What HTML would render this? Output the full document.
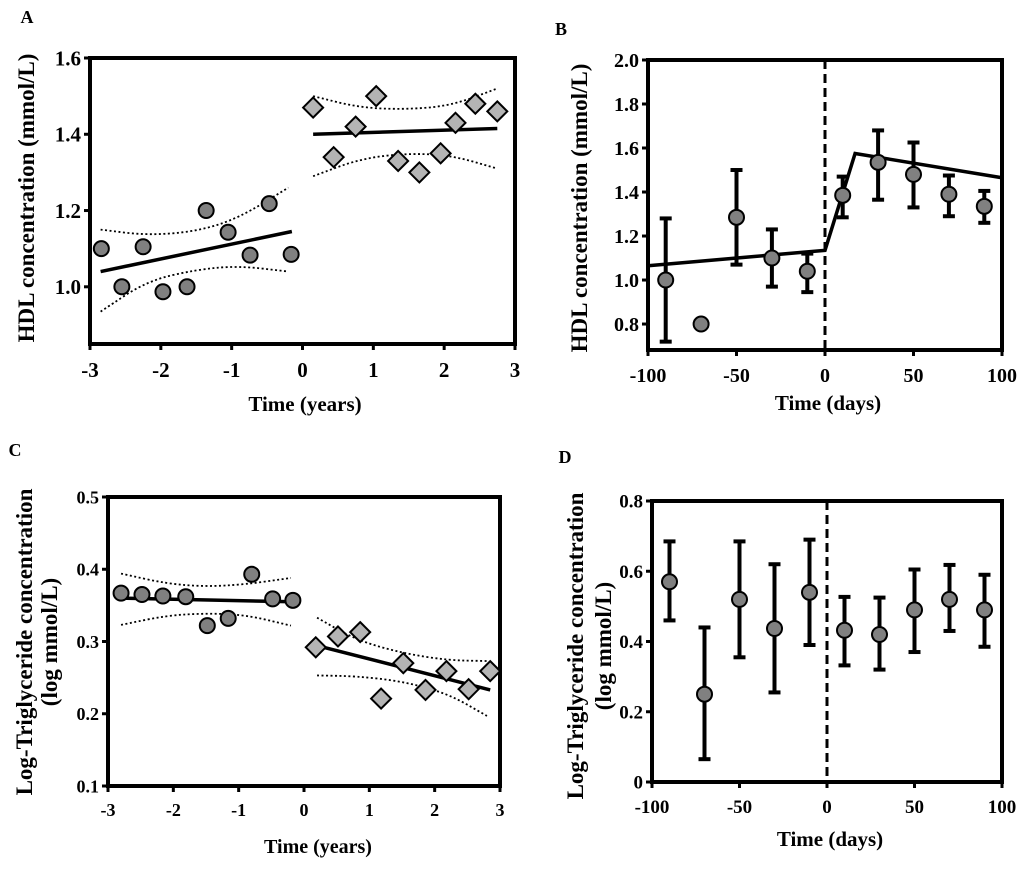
<!DOCTYPE html>
<html><head><meta charset="utf-8"><style>
body{margin:0;background:#fff;}
svg text{font-family:"Liberation Serif",serif;font-weight:bold;fill:#000;}
</style></head><body>
<svg id="fig" width="1024" height="870" viewBox="0 0 1024 870" xmlns="http://www.w3.org/2000/svg"></svg>
<script>
// Panel A data
const aPreX=[-2.84,-2.55,-2.25,-1.97,-1.63,-1.36,-1.05,-0.74,-0.47,-0.16];
const aPreY=[1.10,1.00,1.105,0.987,1.00,1.20,1.143,1.083,1.218,1.085];
const aPostX=[0.15,0.44,0.75,1.04,1.35,1.65,1.95,2.16,2.44,2.75];
const aPostY=[1.47,1.34,1.42,1.50,1.33,1.30,1.35,1.43,1.48,1.46];
const aFitPre=[[-2.85,1.04],[-0.15,1.145]];
const aFitPost=[[0.15,1.40],[2.75,1.415]];
const aBandX=[-2.85,-2.2,-1.5,-0.9,-0.2];
const aBandUp=[1.15,1.135,1.145,1.18,1.26];
const aBandLo=[0.935,1.015,1.045,1.055,1.04];
const aBand2X=[0.15,0.8,1.45,2.1,2.75];
const aBand2Up=[1.50,1.47,1.465,1.475,1.52];
const aBand2Lo=[1.29,1.335,1.35,1.345,1.31];
const aXTicks=[-3,-2,-1,0,1,2,3];
const aYTicks=[1.0,1.2,1.4,1.6];
// Panel B data
const bDays=[-90,-70,-50,-30,-10,10,30,50,70,90];
const bMean=[1.0,0.8,1.285,1.10,1.04,1.385,1.535,1.48,1.39,1.335];
const bLo=[0.72,null,1.07,0.97,0.945,1.285,1.365,1.33,1.29,1.26];
const bHi=[1.28,null,1.50,1.23,1.12,1.47,1.68,1.625,1.475,1.405];
const bModel=[[-100,1.065],[0,1.135],[17,1.575],[100,1.465]];
const bXTicks=[-100,-50,0,50,100];
const bYTicks=[0.8,1.0,1.2,1.4,1.6,1.8,2.0];
// Panel C data
const cPreX=[-2.80,-2.48,-2.16,-1.81,-1.48,-1.16,-0.80,-0.48,-0.17];
const cPreY=[0.367,0.365,0.363,0.362,0.322,0.332,0.393,0.359,0.357];
const cPostX=[0.18,0.52,0.86,1.18,1.52,1.86,2.18,2.52,2.85];
const cPostY=[0.292,0.307,0.313,0.221,0.270,0.233,0.259,0.234,0.259];
const cFitPre=[[-2.8,0.360],[-0.17,0.355]];
const cFitPost=[[0.3,0.292],[2.85,0.233]];
const cBandX=[-2.8,-2.1,-1.5,-0.9,-0.2];
const cBandUp=[0.394,0.380,0.376,0.379,0.388];
const cBandLo=[0.323,0.336,0.339,0.337,0.322];
const cBand2X=[0.2,0.8,1.5,2.2,2.8];
const cBand2Up=[0.333,0.302,0.284,0.274,0.273];
const cBand2Lo=[0.253,0.252,0.245,0.228,0.197];
const cXTicks=[-3,-2,-1,0,1,2,3];
const cYTicks=[0.1,0.2,0.3,0.4,0.5];
// Panel D data
const dDays=[-90,-70,-50,-30,-10,10,30,50,70,90];
const dMean=[0.57,0.25,0.52,0.437,0.54,0.432,0.42,0.49,0.52,0.49];
const dLo=[0.46,0.065,0.355,0.255,0.39,0.332,0.32,0.37,0.43,0.385];
const dHi=[0.685,0.44,0.685,0.62,0.69,0.527,0.525,0.605,0.618,0.59];
const dXTicks=[-100,-50,0,50,100];
const dYTicks=[0,0.2,0.4,0.6,0.8];

const svg=document.getElementById('fig');
const NS='http://www.w3.org/2000/svg';
function mk(tag,attrs,parent){const e=document.createElementNS(NS,tag);for(const k in attrs)e.setAttribute(k,attrs[k]);(parent||svg).appendChild(e);return e;}
function txt(s,x,y,size,anchor,parent,rot){const t=mk('text',{x:x,y:y,'font-size':size,'text-anchor':anchor||'middle'},parent);if(rot)t.setAttribute('transform','rotate(-90 '+x+' '+y+')');t.textContent=s;return t;}
function axes(p,g){
  const sx=v=>p.x0+(v-p.xmin)/(p.xmax-p.xmin)*(p.x1-p.x0);
  const sy=v=>p.y1-(v-p.ymin)/(p.ymax-p.ymin)*(p.y1-p.y0);
  const box=mk('rect',{x:p.x0,y:p.y0,width:p.x1-p.x0,height:p.y1-p.y0,fill:'none',stroke:'#000','stroke-width':4},g);
  
  const fs=p.fs;
  p.xt.forEach(v=>{mk('line',{x1:sx(v),x2:sx(v),y1:p.y1,y2:p.y1+6,stroke:'#000','stroke-width':3},g);
    const t=txt(String(v),sx(v),p.y1+p.xlo,fs,'middle',g);});
  p.yt.forEach(v=>{mk('line',{x1:p.x0-6,x2:p.x0,y1:sy(v),y2:sy(v),stroke:'#000','stroke-width':3},g);
    const t=txt(p.yfmt(v),p.x0-9,sy(v)+fs*0.35,fs,'end',g);});
  return [sx,sy];
}
function poly(pts,sx,sy,attrs,g,name){const l=mk('polyline',Object.assign({points:pts.map(q=>sx(q[0])+','+sy(q[1])).join(' '),fill:'none',stroke:'#000'},attrs),g);return l;}
function band(xs,ys,sx,sy,g,name){
  let d='M'+sx(xs[0])+','+sy(ys[0]);
  for(let i=1;i<xs.length;i++){const mx=(sx(xs[i-1])+sx(xs[i]))/2;d+=' Q'+sx(xs[i-1])+','+sy(ys[i-1])+' '+mx+','+((sy(ys[i-1])+sy(ys[i]))/2);}
  d+=' L'+sx(xs[xs.length-1])+','+sy(ys[ys.length-1]);
  const p=mk('path',{d:d,fill:'none',stroke:'#000','stroke-width':1.8,'stroke-dasharray':'2,2.5'},g);
  
}
function circ(x,y,g,name){const c=mk('circle',{cx:x,cy:y,r:7.5,fill:'#808080',stroke:'#000','stroke-width':2},g);}
function diam(x,y,g,name){const r=10;const c=mk('polygon',{points:`${x},${y-r} ${x+r},${y} ${x},${y+r} ${x-r},${y}`,fill:'#b4b4b4',stroke:'#000','stroke-width':2},g);}
function errbars(days,mean,lo,hi,sx,sy,g){
  days.forEach((d,i)=>{
    if(lo[i]!=null){
      const e=mk('g',{},g);
      mk('line',{x1:sx(d),x2:sx(d),y1:sy(lo[i]),y2:sy(hi[i]),stroke:'#000','stroke-width':4},e);
      mk('line',{x1:sx(d)-6,x2:sx(d)+6,y1:sy(lo[i]),y2:sy(lo[i]),stroke:'#000','stroke-width':4},e);
      mk('line',{x1:sx(d)-6,x2:sx(d)+6,y1:sy(hi[i]),y2:sy(hi[i]),stroke:'#000','stroke-width':4},e);
    }
  });
  days.forEach((d,i)=>circ(sx(d),sy(mean[i]),g,'mean-point'));
}
function vdash(sx,p,g){const l=mk('line',{x1:sx(0),x2:sx(0),y1:p.y0,y2:p.y1,stroke:'#000','stroke-width':3,'stroke-dasharray':'9,5'},g);}

// ---- Panel A
let g=mk('g',{});
let t=txt('A',27,23,18,'middle',g);
let pA={x0:90,x1:515,y0:58,y1:344,xmin:-3,xmax:3,ymin:0.85,ymax:1.6,xt:aXTicks,yt:aYTicks,yfmt:v=>v.toFixed(1),fs:21,xlo:33};
let [sx,sy]=axes(pA,g);
band(aBandX,aBandUp,sx,sy,g,'ci-upper-pre');band(aBandX,aBandLo,sx,sy,g,'ci-lower-pre');
band(aBand2X,aBand2Up,sx,sy,g,'ci-upper-post');band(aBand2X,aBand2Lo,sx,sy,g,'ci-lower-post');
poly(aFitPre,sx,sy,{'stroke-width':3.5},g,'fit-line-pre');poly(aFitPost,sx,sy,{'stroke-width':3.5},g,'fit-line-post');
aPreX.forEach((x,i)=>circ(sx(x),sy(aPreY[i]),g,'pre-point'));
aPostX.forEach((x,i)=>diam(sx(x),sy(aPostY[i]),g,'post-point'));
t=txt('HDL concentration (mmol/L)',34,198,23,'middle',g,true);
t=txt('Time (years)',305,411,21,'middle',g);

// ---- Panel B
g=mk('g',{});
t=txt('B',561,35,18,'middle',g);
let pB={x0:648,x1:1002,y0:60,y1:350,xmin:-100,xmax:100,ymin:0.682,ymax:2.0,xt:bXTicks,yt:bYTicks,yfmt:v=>v.toFixed(1),fs:20,xlo:32};
[sx,sy]=axes(pB,g);
vdash(sx,pB,g);
poly(bModel,sx,sy,{'stroke-width':3.5},g,'model-line');
errbars(bDays,bMean,bLo,bHi,sx,sy,g);
t=txt('HDL concentration (mmol/L)',587,208,23,'middle',g,true);
t=txt('Time (days)',828,410,21,'middle',g);

// ---- Panel C
g=mk('g',{});
t=txt('C',15,456,18,'middle',g);
let pC={x0:108,x1:500,y0:497,y1:786,xmin:-3,xmax:3,ymin:0.1,ymax:0.5,xt:cXTicks,yt:cYTicks,yfmt:v=>v.toFixed(1),fs:18,xlo:30};
[sx,sy]=axes(pC,g);
band(cBandX,cBandUp,sx,sy,g,'ci-upper-pre');band(cBandX,cBandLo,sx,sy,g,'ci-lower-pre');
band(cBand2X,cBand2Up,sx,sy,g,'ci-upper-post');band(cBand2X,cBand2Lo,sx,sy,g,'ci-lower-post');
poly(cFitPre,sx,sy,{'stroke-width':3.5},g,'fit-line-pre');poly(cFitPost,sx,sy,{'stroke-width':3.5},g,'fit-line-post');
cPreX.forEach((x,i)=>circ(sx(x),sy(cPreY[i]),g,'pre-point'));
cPostX.forEach((x,i)=>diam(sx(x),sy(cPostY[i]),g,'post-point'));
t=txt('Log-Triglyceride concentration',32,642,23,'middle',g,true);
t=txt('(log mmol/L)',57,642,23,'middle',g,true);
t=txt('Time (years)',318,853,20,'middle',g);

// ---- Panel D
g=mk('g',{});
t=txt('D',565,463,18,'middle',g);
let pD={x0:652,x1:1002,y0:501,y1:782,xmin:-100,xmax:100,ymin:0,ymax:0.8,xt:dXTicks,yt:dYTicks,yfmt:v=>v===0?'0':v.toFixed(1),fs:19,xlo:31};
[sx,sy]=axes(pD,g);
vdash(sx,pD,g);
errbars(dDays,dMean,dLo,dHi,sx,sy,g);
t=txt('Log-Triglyceride concentration',583,646,23,'middle',g,true);
t=txt('(log mmol/L)',611,646,23,'middle',g,true);
t=txt('Time (days)',830,846,21,'middle',g);
</script>
</body></html>
